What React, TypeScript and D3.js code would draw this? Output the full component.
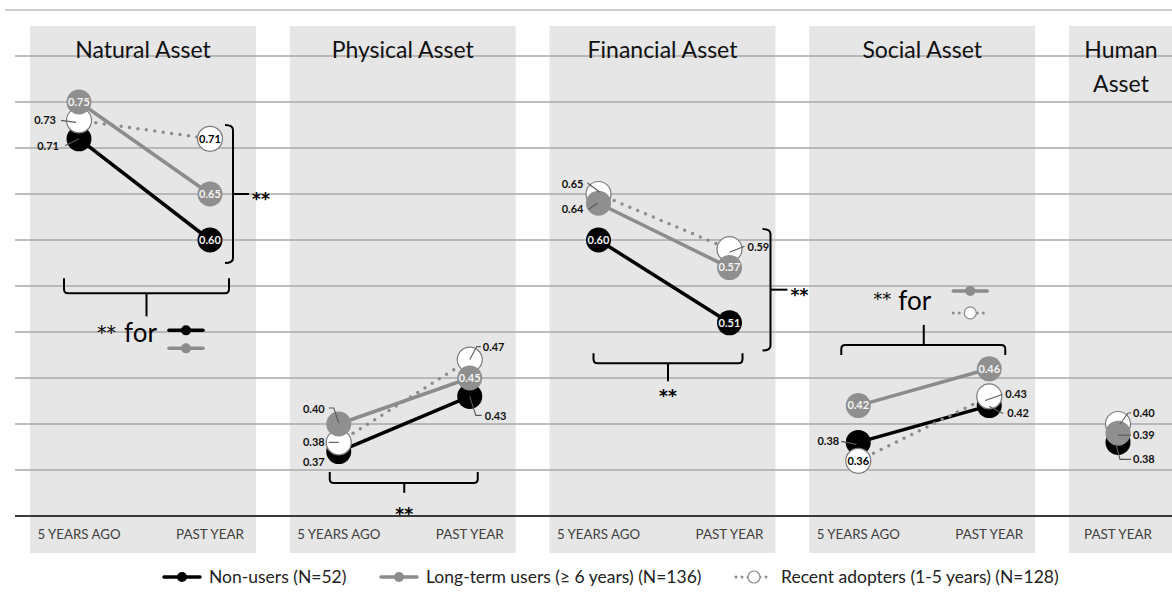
import * as d3 from "d3";

const ASSETS = ["Natural Asset", "Physical Asset", "Financial Asset", "Social Asset", "Human Asset"];
const TITLE_LINES = [["Natural Asset"], ["Physical Asset"], ["Financial Asset"], ["Social Asset"], ["Human", "Asset"]];
const PERIODS = ["5 YEARS AGO", "PAST YEAR"];
const ASSET_PERIODS = [PERIODS, PERIODS, PERIODS, PERIODS, ["PAST YEAR"]];

// values per asset: [5 years ago, past year]
const NON_USERS = [[0.71, 0.6], [0.37, 0.43], [0.6, 0.51], [0.38, 0.42], [null, 0.38]];
const LONG_TERM = [[0.75, 0.65], [0.4, 0.45], [0.64, 0.57], [0.42, 0.46], [null, 0.39]];
const RECENT = [[0.73, 0.71], [0.38, 0.47], [0.65, 0.59], [0.36, 0.43], [null, 0.4]];

const GROUPS = ["Non-users (N=52)", "Long-term users (\u2265 6 years) (N=136)", "Recent adopters (1-5 years) (N=128)"];

// label placement: "in" = inside the dot, otherwise offset + leader line
type Lbl = "in" | null | { dx: number; dy: number; leader?: [number, number][] };

const NON_LABELS: Lbl[][] = [
  [{ dx: -20, dy: 7, leader: [[-14, 7], [0, 0]] }, "in"],
  [{ dx: -14, dy: 11 }, { dx: 15, dy: 20, leader: [[0, 0], [6, 19], [12, 19]] }],
  ["in", "in"],
  [{ dx: -19, dy: -1, leader: [[-17, -1], [-2, 2]] }, { dx: 18, dy: 8, leader: [[0, 1], [14, 8]] }],
  [null, { dx: 15, dy: 17, leader: [[-2, 2], [2, 17], [13, 17]] }],
];
const LONG_LABELS: Lbl[][] = [
  ["in", "in"],
  [{ dx: -14, dy: -15, leader: [[-10, -16], [-5, -16], [0, -1]] }, "in"],
  [{ dx: -15, dy: 6, leader: [[-10, 6], [-1, 0]] }, "in"],
  ["in", "in"],
  [null, { dx: 15, dy: 2, leader: [[0, 2], [13, 2]] }],
];
const RECENT_LABELS: Lbl[][] = [
  [{ dx: -23, dy: 0, leader: [[-18, 0], [-3, 2]] }, "in"],
  [{ dx: -14, dy: 0, leader: [[-10, 0], [0, 0]] }, { dx: 13, dy: -12, leader: [[0, 0], [7, -13], [11, -13]] }],
  [{ dx: -15, dy: -10, leader: [[-11, -11], [1, -2]] }, { dx: 18, dy: -2, leader: [[0, 3], [15, -3]] }],
  ["in", { dx: 16, dy: -2, leader: [[-4, 4], [13, -2]] }],
  [null, { dx: 15, dy: -11, leader: [[2, 0], [10, -11], [13, -11]] }],
];

const SERIES = [
  { values: NON_USERS, labels: NON_LABELS, kind: "black" },
  { values: LONG_TERM, labels: LONG_LABELS, kind: "gray" },
  { values: RECENT, labels: RECENT_LABELS, kind: "white" },
];

const FONT = "Lato, 'Open Sans', sans-serif";
const W = 1172;
const H = 592;
const GRAY = "#8c8c8c";
const R = 12.5;

const yScale = d3.scaleLinear().domain([0.3, 0.85]).range([516, 10]);
const panelScale = d3.scaleBand<string>().domain(ASSETS).range([30, 1295]).paddingInner(0.13);
const periodScale = (ai: number) =>
  d3.scalePoint<string>().domain(ASSET_PERIODS[ai]).range([49, 180]).align(0);
const xPos = (ai: number, pi: number) => panelScale(ASSETS[ai])! + periodScale(ai)(PERIODS[pi])!;

const Marker = ({ x, y, kind, len = 17 }: { x: number; y: number; kind: string; len?: number }) => {
  if (kind === "white") {
    return (
      <g>
        <line x1={x - len} x2={x + len} y1={y} y2={y} stroke={GRAY} strokeWidth={3} strokeDasharray="0 6" strokeLinecap="round" />
        <circle cx={x} cy={y} r={6} fill="#fff" stroke={GRAY} strokeWidth={1.2} />
      </g>
    );
  }
  const c = kind === "black" ? "#000" : GRAY;
  return (
    <g>
      <line x1={x - len} x2={x + len} y1={y} y2={y} stroke={c} strokeWidth={3.5} strokeLinecap="round" />
      <circle cx={x} cy={y} r={5} fill={c} />
    </g>
  );
};

const Stars = ({ x, y, anchor = "middle", size = 17, bold = true }: { x: number; y: number; anchor?: string; size?: number; bold?: boolean }) => (
  <text x={x} y={y} fontSize={size} fontFamily="'DejaVu Sans', sans-serif" fontWeight={bold ? "bold" : "normal"} textAnchor={anchor} fill="#000">**</text>
);

export default function App() {
  const gridValues = d3.range(7, 18).map((i) => +(i * 0.05).toFixed(2));
  const line = d3
    .line<[number, number | null]>()
    .defined((d) => d[1] !== null)
    .x((d) => d[0])
    .y((d) => yScale(d[1] as number));

  const bracketPath = {
    right: (x: number, y0: number, y1: number, hook: number) =>
      `M${x - hook},${y0} Q${x},${y0} ${x},${y0 + 5} L${x},${y1 - 5} Q${x},${y1} ${x - hook},${y1}`,
    up: (x0: number, x1: number, y: number, h: number) =>
      `M${x0},${y - h} L${x0},${y - 4} Q${x0},${y} ${x0 + 4},${y} L${x1 - 4},${y} Q${x1},${y} ${x1},${y - 4} L${x1},${y - h}`,
    down: (x0: number, x1: number, y: number, h: number) =>
      `M${x0},${y + h} L${x0},${y + 4} Q${x0},${y} ${x0 + 4},${y} L${x1 - 4},${y} Q${x1},${y} ${x1},${y + 4} L${x1},${y + h}`,
  };

  // annotation geometry
  const nat5 = xPos(0, 0), natP = xPos(0, 1);
  const phy5 = xPos(1, 0), phyP = xPos(1, 1);
  const fin5 = xPos(2, 0), finP = xPos(2, 1);
  const soc5 = xPos(3, 0), socP = xPos(3, 1);

  return (
    <svg width={W} height={H} style={{ position: "absolute", left: 0, top: 0 }} fontFamily={FONT}>
      <rect width={W} height={H} fill="#fff" />
      {ASSETS.map((a) => (
        <rect key={a} x={panelScale(a)} y={26} width={panelScale.bandwidth()} height={527} fill="#e6e6e6" />
      ))}
      {gridValues.map((v) => (
        <line key={v} x1={v >= 0.85 ? 5 : 15} x2={W} y1={yScale(v)} y2={yScale(v)} stroke={v >= 0.85 ? "#bdbdbd" : "#a8a8a8"} strokeWidth={1.5} />
      ))}
      <line x1={15} x2={W} y1={yScale(0.3)} y2={yScale(0.3)} stroke="#3a3a3a" strokeWidth={2} />

      {TITLE_LINES.map((lines, ai) => {
        const cx = ai === 4 ? xPos(4, 1) + 3 : panelScale(ASSETS[ai])! + panelScale.bandwidth() / 2;
        return lines.map((t, li) => (
          <text key={ai + t} x={cx} y={58 + li * 34} textAnchor="middle" fontSize={23} fill="#111">{t}</text>
        ));
      })}

      {ASSETS.map((a, ai) =>
        ASSET_PERIODS[ai].map((p) => (
          <text key={a + p} x={panelScale(a)! + periodScale(ai)(p)!} y={539} textAnchor="middle" fontSize={14}
            fill="#404040" textLength={p === "PAST YEAR" ? 68 : 83} lengthAdjust="spacingAndGlyphs">{p}</text>
        ))
      )}

      {/* lines */}
      {SERIES.map((s) =>
        s.values.map((vals, ai) => {
          if (vals[0] === null) return null;
          const pts: [number, number | null][] = vals.map((v, pi) => [xPos(ai, pi), v]);
          const d = line(pts) || "";
          return s.kind === "white" ? (
            <path key={s.kind + ai} d={d} fill="none" stroke={GRAY} strokeWidth={3.5} strokeDasharray="0 8.5" strokeLinecap="round" />
          ) : (
            <path key={s.kind + ai} d={d} fill="none" stroke={s.kind === "black" ? "#000" : GRAY} strokeWidth={3.5} />
          );
        })
      )}

      {/* dots: black, white, gray */}
      {[0, 2, 1].map((si) => {
        const s = SERIES[si];
        return s.values.map((vals, ai) =>
          vals.map((v, pi) =>
            v === null ? null : (
              <circle key={s.kind + ai + pi} cx={xPos(ai, pi)} cy={yScale(v)} r={R}
                fill={s.kind === "black" ? "#000" : s.kind === "gray" ? "#8f8f8f" : "#fff"}
                stroke={s.kind === "white" ? "#7a7a7a" : "none"} strokeWidth={1.2} />
            )
          )
        );
      })}

      {/* value labels */}
      {SERIES.map((s) =>
        s.values.map((vals, ai) =>
          vals.map((v, pi) => {
            const lbl = s.labels[ai][pi];
            if (v === null || !lbl) return null;
            const cx = xPos(ai, pi), cy = yScale(v);
            const txt = v.toFixed(2);
            if (lbl === "in") {
              return (
                <text key={s.kind + ai + pi} x={cx} y={cy} dy="0.35em" textAnchor="middle" fontSize={11} fontWeight="bold"
                  fill={s.kind === "white" ? "#000" : "#f4f4f4"}>{txt}</text>
              );
            }
            return (
              <g key={s.kind + ai + pi}>
                {lbl.leader && (
                  <polyline points={lbl.leader.map(([a, b]) => `${cx + a},${cy + b}`).join(" ")} fill="none" stroke="#595959" strokeWidth={1.1} />
                )}
                <text x={cx + lbl.dx} y={cy + lbl.dy} dy="0.35em" textAnchor={lbl.dx < 0 ? "end" : "start"} fontSize={11}
                  fontWeight="bold" fill="#111">{txt}</text>
              </g>
            );
          })
        )
      )}

      {/* significance brackets */}
      <g fill="none" stroke="#000" strokeWidth={2}>
        <path d={bracketPath.right(natP + 23, yScale(0.725), yScale(0.575), 8)} />
        <line x1={natP + 23} x2={natP + 39} y1={yScale(0.65)} y2={yScale(0.65)} />
        <path d={bracketPath.right(finP + 41, yScale(0.612), yScale(0.48), 8)} />
        <line x1={finP + 41} x2={finP + 58} y1={yScale(0.546)} y2={yScale(0.546)} />
        <path d={bracketPath.up(nat5 - 15, natP + 19, yScale(0.542), 15)} />
        <line x1={(nat5 + natP) / 2 + 2} x2={(nat5 + natP) / 2 + 2} y1={yScale(0.542)} y2={yScale(0.542) + 23} />
        <path d={bracketPath.up(phy5 - 9, phyP + 8, yScale(0.336), 11)} />
        <line x1={(phy5 + phyP) / 2} x2={(phy5 + phyP) / 2} y1={yScale(0.336)} y2={yScale(0.336) + 10} />
        <path d={bracketPath.up(fin5 - 5, finP + 13, yScale(0.466), 10)} />
        <line x1={(fin5 + finP) / 2 + 4} x2={(fin5 + finP) / 2 + 4} y1={yScale(0.466)} y2={yScale(0.466) + 18} />
        <path d={bracketPath.down(soc5 - 17, socP + 16, yScale(0.486), 10)} />
        <line x1={(soc5 + socP) / 2} x2={(soc5 + socP) / 2} y1={yScale(0.486)} y2={yScale(0.486) - 20} />
      </g>
      <Stars x={natP + 42} y={yScale(0.65) + 11} anchor="start" />
      <Stars x={finP + 61} y={yScale(0.546) + 11} anchor="start" />
      <Stars x={(phy5 + phyP) / 2} y={yScale(0.336) + 37} />
      <Stars x={(fin5 + finP) / 2 + 4} y={yScale(0.466) + 39} />

      {/* "** for" callouts */}
      <Stars x={nat5 + 18} y={yScale(0.542) + 46} anchor="start" size={19} bold={false} />
      <text x={nat5 + 45} y={yScale(0.542) + 49} fontSize={26} fill="#000">for</text>
      <Marker x={nat5 + 107} y={yScale(0.542) + 37} kind="black" />
      <Marker x={nat5 + 107} y={yScale(0.542) + 55} kind="gray" />
      <Stars x={soc5 + 15} y={yScale(0.486) - 40} anchor="start" size={18} bold={false} />
      <text x={soc5 + 40} y={yScale(0.486) - 35} fontSize={26} fill="#000">for</text>
      <Marker x={soc5 + 112} y={yScale(0.486) - 54} kind="gray" />
      <Marker x={soc5 + 112} y={yScale(0.486) - 32} kind="white" />

      {/* legend */}
      {GROUPS.map((g, i) => {
        const mx = [182, 399, 754][i];
        return (
          <g key={g}>
            <Marker x={mx} y={577} kind={SERIES[i].kind} len={18} />
            <text x={mx + 27} y={583} fontSize={17.5} fill="#222">{g}</text>
          </g>
        );
      })}
    </svg>
  );
}
